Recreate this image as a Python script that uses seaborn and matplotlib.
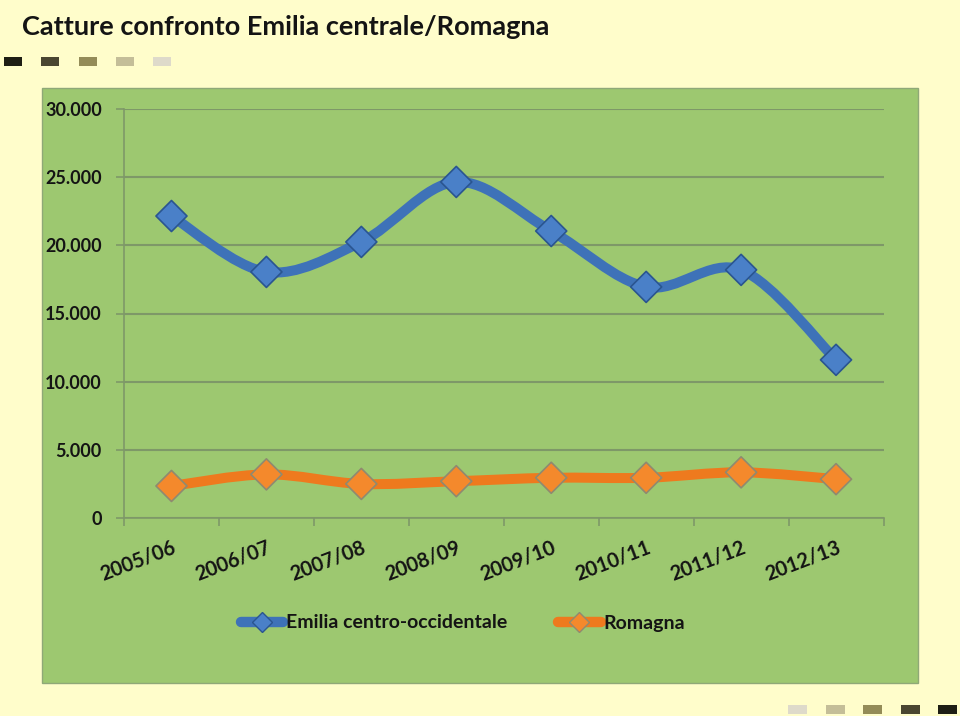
import numpy as np
import pandas as pd
import matplotlib
matplotlib.use("Agg")
import matplotlib.pyplot as plt
import seaborn as sns
from matplotlib.path import Path
from matplotlib.patches import PathPatch, Rectangle
from matplotlib.lines import Line2D
from matplotlib.ticker import FuncFormatter, FixedLocator

# ---- data ----
seasons = ["2005/06", "2006/07", "2007/08", "2008/09", "2009/10", "2010/11", "2011/12", "2012/13"]
emilia = [22150, 18050, 20250, 24650, 21050, 16950, 18200, 11600]
romagna = [2350, 3200, 2500, 2700, 2950, 2950, 3350, 2850]
series_names = ["Emilia centro-occidentale", "Romagna"]
title_text = "Catture confronto Emilia centrale/Romagna"
yticks = [0, 5000, 10000, 15000, 20000, 25000, 30000]

sns.set_theme(style="white")
plt.rcParams['font.family'] = ['Lato', 'DejaVu Sans']

BG = "#FFFDCB"
PANEL = "#9DC870"
GRID = "#7E9868"
BLUE = "#3E72B8"
BLUE_M = "#4A80C8"
BLUE_E = "#2A5590"
ORANGE = "#EE7A1E"
ORANGE_M = "#F4892C"
ORANGE_E = "#8F8A70"

fig = plt.figure(figsize=(9.6, 7.16), dpi=100, facecolor=BG)
W, H = 960, 716

def fx(px):
    return px / W

def fy(py):
    return 1 - py / H

# green panel
fig.patches.append(Rectangle((fx(42), fy(683)), fx(918) - fx(42), fy(88) - fy(683),
                             transform=fig.transFigure, facecolor=PANEL,
                             edgecolor="#8FA878", linewidth=1.0, zorder=-5))

# decorative squares
top_cols = ["#1E1E14", "#4A4630", "#948C58", "#C4BE98", "#DEDACA"]
top_x = [4, 41, 79, 116, 153]
for x0, c in zip(top_x, top_cols):
    fig.patches.append(Rectangle((fx(x0), fy(66)), fx(18), fy(57) - fy(66),
                                 transform=fig.transFigure, facecolor=c, edgecolor="none",
                                 zorder=-5))
bot_x = [788, 826, 863, 901, 938]
for x0, c in zip(bot_x, top_cols[::-1]):
    fig.patches.append(Rectangle((fx(x0), fy(714)), fx(19), fy(705) - fy(714),
                                 transform=fig.transFigure, facecolor=c, edgecolor="none",
                                 zorder=-5))

fig.text(fx(22), fy(27), title_text, fontsize=19.5, fontweight="bold",
         color="#141414", ha="left", va="center")

ax = fig.add_axes([fx(124), fy(518), fx(883.5) - fx(124), fy(109) - fy(518)])
ax.set_facecolor("none")
ax.set_zorder(2)


def smooth_path(xs, ys):
    pts = np.column_stack([xs, ys]).astype(float)
    n = len(pts)
    verts = [pts[0]]
    codes = [Path.MOVETO]
    for i in range(n - 1):
        p0 = pts[i - 1] if i > 0 else pts[i]
        p1 = pts[i]
        p2 = pts[i + 1]
        p3 = pts[i + 2] if i + 2 < n else pts[i + 1]
        c1 = p1 + (p2 - p0) / 6.0
        c2 = p2 - (p3 - p1) / 6.0
        verts += [c1, c2, p2]
        codes += [Path.CURVE4] * 3
    return Path(verts, codes)


xpos = np.arange(len(seasons))
df = pd.DataFrame({"x": np.concatenate([xpos, xpos]),
                   "y": emilia + romagna,
                   "serie": [series_names[0]] * len(xpos) + [series_names[1]] * len(xpos)})

for vals, col in [(emilia, BLUE), (romagna, ORANGE)]:
    ax.add_patch(PathPatch(smooth_path(xpos, vals), facecolor="none", edgecolor=col,
                           linewidth=7.2, capstyle="round", joinstyle="round", zorder=3))

sns.scatterplot(data=df, x="x", y="y", hue="serie", palette=[BLUE_M, ORANGE_M],
                marker="D", s=250, ax=ax, legend=False, zorder=4, linewidth=1.2)
coll = ax.collections[-1]
coll.set_edgecolor([BLUE_E] * len(xpos) + [ORANGE_E] * len(xpos))
ax.set_xlabel("")
ax.set_ylabel("")
ax.set_xlim(-0.5, 7.5)
ax.set_ylim(0, 30000)

for s in ["top", "right"]:
    ax.spines[s].set_visible(False)
for s in ["left", "bottom"]:
    ax.spines[s].set_color(GRID)
    ax.spines[s].set_linewidth(1.2)

ax.yaxis.set_major_locator(FixedLocator(yticks))
ax.yaxis.set_major_formatter(FuncFormatter(lambda v, p: f"{int(v):,}".replace(",", ".")))
ax.grid(axis="y", color=GRID, linewidth=1.5)
ax.grid(axis="x", visible=False)
ax.set_axisbelow(True)
ax.tick_params(axis="y", left=True, length=6, width=1.2, color=GRID, labelsize=13,
               labelcolor="#141414", pad=10)
for lab in ax.get_yticklabels():
    lab.set_fontweight("bold")

ax.set_xticks(xpos)
ax.set_xticklabels(seasons, rotation=21, ha="right", rotation_mode="anchor",
                   fontsize=14.5, fontweight="bold", color="#141414")
ax.tick_params(axis="x", which="major", length=0, pad=14)
ax.set_xticks(np.arange(-0.5, 8.0, 1.0), minor=True)
ax.tick_params(axis="x", which="minor", bottom=True, length=6, width=1.2, color=GRID)

handles = [Line2D([0], [0], color=BLUE, lw=7.5, marker="D", markersize=10,
                  markerfacecolor=BLUE_M, markeredgecolor=BLUE_E),
           Line2D([0], [0], color=ORANGE, lw=7.5, marker="D", markersize=10,
                  markerfacecolor=ORANGE_M, markeredgecolor=ORANGE_E)]
leg = fig.legend(handles, series_names, loc="center", bbox_to_anchor=(fx(463), fy(623)),
                 ncol=2, frameon=False, fontsize=14, handlelength=2.2, handletextpad=0.15,
                 columnspacing=2.6)
for t in leg.get_texts():
    t.set_fontweight("bold")
    t.set_color("#141414")

fig.savefig("out.png", dpi=100, facecolor=BG)
